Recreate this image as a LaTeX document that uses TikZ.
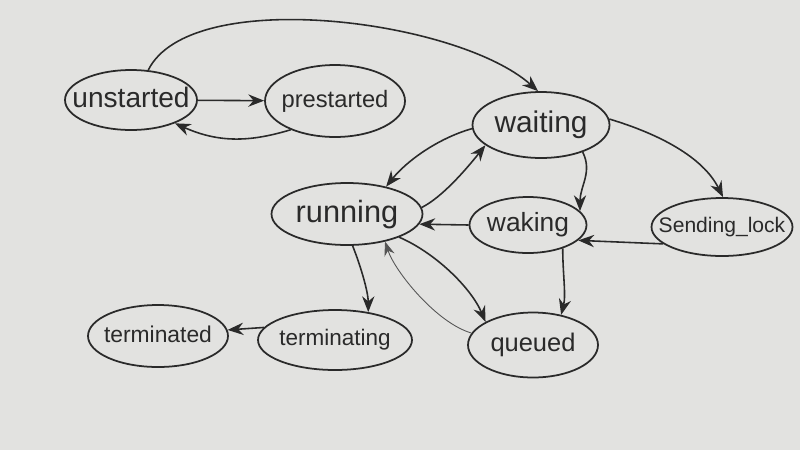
\documentclass[tikz,border=0pt]{standalone}
\usepackage{fontspec}
\setmainfont{Liberation Sans}
\usetikzlibrary{shapes.geometric,arrows.meta}
\definecolor{board}{RGB}{226,226,224}
\definecolor{ink}{RGB}{42,42,42}
\newcommand\fsz[1]{\fontsize{#1}{#1}\selectfont}
\newcommand\lbl[2]{\fsz{#1}\raisebox{-0.5ex}[0pt][0pt]{\makebox[0pt]{#2}}}
\begin{document}
\begin{tikzpicture}[x=0.02cm,y=-0.02cm,
  st/.style={ellipse,draw=ink,line width=1pt,inner sep=0pt,text=ink},
  arr/.style={draw=ink,line width=0.9pt,-{Stealth[length=9pt,width=7pt]}},
  thinarr/.style={draw=ink!80,line width=0.5pt,-{Stealth[length=8pt,width=6pt]}}]
\fill[board] (0,0) rectangle (800,450);
\useasboundingbox (0,0) rectangle (800,450);
\node[st,minimum width=2.64cm,minimum height=1.2cm] (unstarted) at (131,100) {\lbl{16}{unstarted}};
\node[st,minimum width=2.8cm,minimum height=1.44cm] (prestarted) at (335,101) {\lbl{13.5}{prestarted}};
\node[st,minimum width=2.74cm,minimum height=1.32cm] (waiting) at (541,125) {\lbl{17}{waiting}};
\node[st,minimum width=3.02cm,minimum height=1.24cm] (running) at (347,214) {\lbl{17.5}{running}};
\node[st,minimum width=2.34cm,minimum height=1.12cm] (waking) at (528,225) {\lbl{15}{waking}};
\node[st,minimum width=2.82cm,minimum height=1.16cm] (sending) at (722,227) {\lbl{12}{Sending\_lock}};
\node[st,minimum width=2.8cm,minimum height=1.24cm] (terminated) at (158,336) {\lbl{13}{terminated}};
\node[st,minimum width=3.08cm,minimum height=1.2cm] (terminating) at (335,340) {\lbl{12.8}{terminating}};
\node[st,minimum width=2.6cm,minimum height=1.3cm] (queued) at (533,345) {\lbl{14.5}{queued}};
\draw[arr] (unstarted.60) .. controls +(42,-85) and +(-81,-72) .. (waiting.95);
\draw[arr] (unstarted) -- (prestarted);
\draw[arr] (prestarted.213) .. controls +(-40,12) and +(45,20) .. (unstarted.332);
\draw[arr] (waiting.183) .. controls +(-35,10) and +(20,-25) .. (running.35);
\draw[arr] (running.5) .. controls +(20,-10) and +(-20,25) .. (waiting.200);
\draw[arr] (waiting.327) .. controls +(10,20) and +(0,-25) .. (waking.15);
\draw[arr] (waiting.5) .. controls +(50,15) and +(-20,-40) .. (sending.88);
\draw[arr] (waking.180) -- (running.352);
\draw[arr] (sending.196) -- (waking.343);
\draw[arr] (waking.326) .. controls +(0,25) and +(5,-20) .. (queued.47);
\draw[arr] (running.336) .. controls +(35,15) and +(-15,-35) .. (queued.154);
\draw[thinarr] (queued.169) .. controls +(-35,-10) and +(10,30) .. (running.324);
\draw[arr] (running.280) .. controls +(8,20) and +(0,-20) .. (terminating.40);
\draw[arr] (terminating.170) -- (terminated.5);
\end{tikzpicture}
\end{document}
